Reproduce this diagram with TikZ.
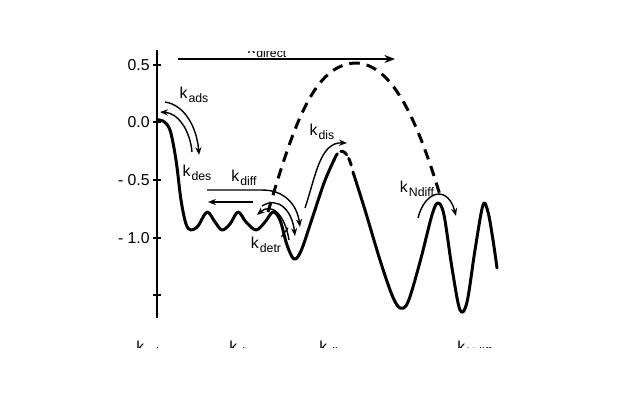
\documentclass[tikz,border=0pt]{standalone}
\usepackage{fontspec}
\setmainfont{Liberation Sans}
\usetikzlibrary{arrows.meta}
\newcommand\ksb[1]{k\kern0.6pt\raisebox{-0.5ex}{\fontsize{7}{8}\selectfont #1}}
\begin{document}
\begin{tikzpicture}[x=0.02cm,y=-0.02cm,
  curve/.style={line width=1.7pt, line cap=round, line join=round},
  dcurve/.style={line width=1.7pt, dash pattern=on 6pt off 4pt},
  rate/.style={line width=0.8pt, -{Stealth[length=4.5pt,width=3.5pt]}},
  lab/.style={font=\fontsize{9}{10}\selectfont, inner sep=0pt},
  ticklab/.style={font=\fontsize{9}{10}\selectfont, inner sep=0pt, anchor=east}]
\useasboundingbox[fill=white] (0,0) rectangle (640,400);

% axis
\draw[line width=1.1pt] (157,50) -- (157,318);
\foreach \yy in {65,122,180,238,295} \draw[line width=1pt] (153,\yy) -- (161,\yy);
\node[ticklab] (t1) at (150,65) {0.5};
\node[ticklab] (t2) at (150,122) {0.0};
\node[ticklab] (t3) at (150,180) {- 0.5};
\node[ticklab] (t4) at (150,238) {- 1.0};

% energy curve
\draw[curve] plot[smooth, tension=0.55] coordinates {
 (157,120) (163,121) (170,130) (176,160) (181,200) (186,224) (191,230)
 (198,226) (207,212) (215,222) (222,230) (230,224) (238,212) (246,222)
 (256,230) (265,222) (273,212) (280,220) (287,245) (294,259) (301,251)
 (311,222) (324,183) (334,160)};
\draw[curve, dash pattern=on 4pt off 2.5pt] (334,160) .. controls (338,149) and (346,145) .. (352,168);
\draw[curve] plot[smooth, tension=0.55] coordinates {
 (353,172) (365,210) (380,260) (392,295) (400,308) (408,302) (420,262)
 (432,215) (438,203) (444,215) (452,268) (460,310) (467,302) (475,250)
 (483,205) (488,212) (493,240) (497,268)};

% direct path (dashed)
\draw[dcurve] (268,212) .. controls (295,120) and (315,65) .. (355,63)
  .. controls (395,63) and (420,130) .. (440,195);

% top arrow and clipped label
\draw[line width=1pt, -{Stealth[length=6pt,width=4.5pt]}] (178,59) -- (395,59);
\begin{scope}
\clip (0,51) rectangle (640,58);
\node[lab, anchor=base west] (kdir) at (247,53.5) {\ksb{direct}};
\end{scope}

% k_ads / k_des
\draw[rate] (165,102) .. controls (185,105) and (197,128) .. (199,155);
\draw[rate, {Stealth[length=4.5pt,width=3.5pt]}-] (160,112) .. controls (178,113) and (190,130) .. (192,152);
\node[lab] (kads) at (194,95) {\ksb{ads}};
\node[lab] (kdes) at (197,173) {\ksb{des}};

% k_diff
\draw[rate] (207,190) -- (262,190) .. controls (285,190) and (297,205) .. (300,227);
\draw[rate] (253,202) -- (208,202);
\node[lab] (kdiff) at (244,178) {\ksb{diff}};

% k_detr
\draw[rate] (262,206) .. controls (278,196) and (292,210) .. (295,236);
\draw[rate, {Stealth[length=4.5pt,width=3.5pt]}-] (257,215) .. controls (272,202) and (285,215) .. (289,240);
\node[lab] (kdetr) at (266,245) {\ksb{detr}};
\draw[line width=0.7pt] (kdetr.north east) -- (288,228);

% k_dis
\draw[rate] (305,208) .. controls (316,175) and (320,142) .. (347,143);
\node[lab] (kdis) at (322,132) {\ksb{dis}};

% k_Ndiff
\draw[rate] (418,218) .. controls (425,190) and (448,185) .. (456,216);
\node[lab] (kndiff) at (417,189) {\ksb{Ndiff}};

% bottom clipped labels
\begin{scope}
\clip (0,330) rectangle (640,347.5);
\node[lab, anchor=base west] (b1) at (136,352) {\ksb{ads}};
\node[lab, anchor=base west] (b2) at (229,352) {\ksb{des}};
\node[lab, anchor=base west] (b3) at (319,352) {\ksb{dis}};
\node[lab, anchor=base west] (b4) at (457,352) {\ksb{Ndiff}};
\end{scope}
\end{tikzpicture}
\end{document}
